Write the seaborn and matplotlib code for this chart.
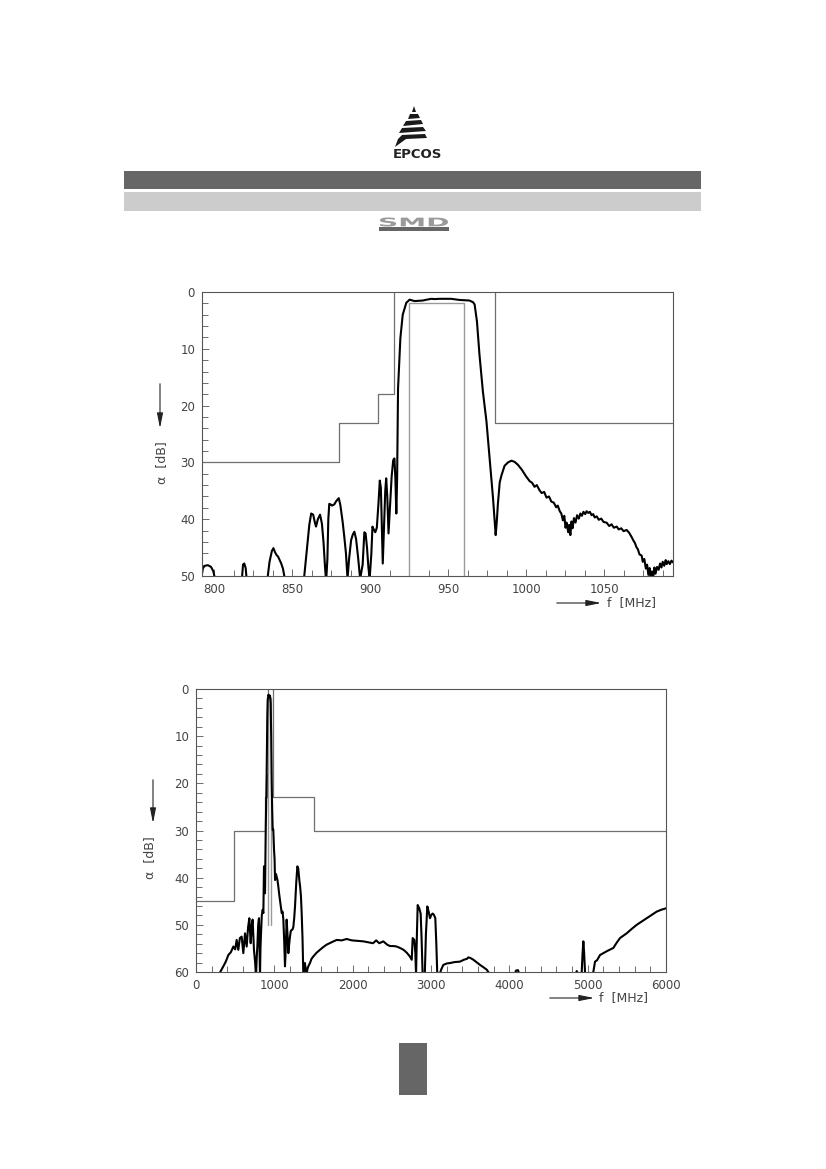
import matplotlib
matplotlib.use("Agg")
import matplotlib.pyplot as plt
import seaborn as sns
from matplotlib.patches import Rectangle, Polygon, PathPatch, FancyArrowPatch
from matplotlib.textpath import TextPath
from matplotlib.font_manager import FontProperties
from matplotlib.transforms import Affine2D
from matplotlib.ticker import MultipleLocator

# ---- data: narrow band response (f in MHz, attenuation in dB)
f1 = [792.0, 792.6, 793.8, 795.8, 797.8, 799.3, 800.3, 802, 815, 817.6, 818.3, 819.1, 820.0, 820.6, 822, 832,
      834.1, 835.3, 836.8, 837.8, 838.8, 839.8, 840.8, 841.8, 842.8, 843.9, 844.9, 846.5, 855,
      857.5, 859.2, 860.8, 862.0, 863.3, 864.3, 865.1, 866.3, 867.7, 868.9, 869.9, 870.9, 871.6, 872.4,
      873.0, 873.6, 874.5, 875.3, 876.8, 878.1, 879.7, 880.7, 882.2, 883.2, 884.3, 885.3, 886.3,
      887.6, 888.7, 889.7, 890.8, 892.0, 893.4, 895.0, 896.1, 896.9, 897.8, 898.7, 899.5, 900.6,
      901.3, 902.1, 903.1, 904.1, 905.2, 906.0, 906.7, 907.4, 907.9, 908.6, 909.5, 910.1, 910.8,
      911.6, 912.5, 913.6, 914.6, 915.4, 916.0, 916.6, 917.1, 917.7, 919.2, 920.7, 923.0, 925.1,
      926.9, 928.3, 931.0, 933.6, 936.1, 939.0, 941.2, 944.3, 947.4, 951.8, 954.5, 957.1, 960.1,
      963.5, 965.8, 966.8, 968.3, 969.9, 972.1, 974.4, 976.4, 978.6, 979.6, 980.3, 981.0, 981.7,
      982.9, 984.0, 986.0, 988.2, 990.4, 992.4, 994.5, 997.1, 999.9, 1002.1, 1003.7, 1005.2,
      1006.7, 1008.4, 1009.8, 1011.4, 1012.9, 1014.5, 1016.0, 1017.6, 1019.1, 1020.1, 1021.4,
      1022.4, 1023.4, 1024.3, 1025.1, 1025.8, 1026.8, 1027.4, 1028.2, 1028.9, 1029.6, 1030.5,
      1031.5, 1032.5, 1033.6, 1034.6, 1035.6, 1036.6, 1037.7, 1038.6, 1039.7, 1040.7, 1041.8,
      1042.8, 1043.8, 1045.1, 1046.4, 1048.0, 1049.5, 1051.4, 1053.1, 1054.6, 1056.1, 1057.9,
      1059.2, 1060.8, 1062.3, 1064.3, 1065.9, 1067.4, 1068.5, 1069.6, 1070.5, 1071.5, 1072.5,
      1073.9, 1074.6, 1075.6, 1076.6, 1077.4, 1078.2, 1079.0, 1079.7, 1080.5, 1081.2, 1082.1,
      1082.8, 1083.8, 1084.8, 1085.7, 1086.6, 1087.4, 1088.4, 1089.3, 1090.0, 1091.0, 1092.0,
      1093.0, 1094.0]
a1 = [49.6, 48.6, 48.2, 48.1, 48.4, 49.2, 50.5, 56, 56, 50.5, 48.0, 47.8, 48.6, 50.5, 56, 56,
      50.2, 47.5, 45.6, 45.1, 45.8, 46.3, 46.6, 47.2, 47.8, 48.7, 50.2, 56, 56,
      50.2, 45.5, 41, 39.0, 39.2, 40.5, 41.3, 40.0, 39.2, 40.8, 44, 48.5, 51, 47,
      40, 37.3, 37.4, 37.6, 37.4, 36.8, 36.3, 37.5, 40.5, 43, 46, 50.5, 47,
      43.7, 42.7, 42.2, 43.5, 46.5, 50.5, 48, 42.3, 42.5, 45, 48.5, 50.5, 46,
      41.3, 41.8, 42.3, 41.5, 37, 33.2, 34.5, 42, 47.8, 42, 35, 32.8, 36,
      42.5, 38, 32.5, 29.6, 29.3, 33, 39, 33, 17, 8.1, 4.0, 1.9, 1.35,
      1.5, 1.6, 1.55, 1.5, 1.35, 1.2, 1.25, 1.2, 1.2, 1.2, 1.3, 1.4, 1.45,
      1.5, 1.8, 2.2, 5.2, 11.0, 17.5, 22.8, 29.2, 36.3, 40, 42.8, 40.5, 37.4,
      33.5, 32.3, 30.6, 30.0, 29.7, 29.9, 30.4, 31.3, 32.5, 33.3, 33.6, 34.3,
      34.0, 34.9, 35.4, 35.2, 36.2, 36.0, 36.9, 37.1, 37.9, 37.6, 38.6,
      39.0, 40.2, 39.4, 41.5, 40.6, 42.3, 41.0, 42.8, 40.4, 41.6, 39.8,
      40.6, 39.3, 39.9, 39.0, 39.4, 38.7, 39.1, 38.6, 38.9, 38.7, 39.3,
      39.1, 39.7, 39.5, 40.1, 39.9, 40.5, 40.6, 41.2, 40.9, 41.5, 41.3,
      41.8, 41.6, 42.1, 41.9, 42.4, 43.1, 43.7, 44.2, 44.9, 45.3, 46.2,
      46.4, 47.5, 47.0, 48.7, 48.0, 49.8, 48.6, 50.5, 49.2, 50.4, 48.5,
      49.6, 48.4, 48.9, 47.8, 48.5, 47.5, 48.2, 47.2, 47.9, 47.4, 47.9,
      47.3, 47.6]

# tolerance mask, narrow band
m1_low_f = [792, 880, 880, 905, 905, 915, 915]
m1_low_a = [30, 30, 23, 23, 18, 18, 0]
m1_high_f = [980, 980, 1094]
m1_high_a = [0, 23, 23]
pass_f = [925, 925, 960, 960]
pass_a = [50, 2, 2, 50]

# ---- data: wide band response
f2 = [300, 306, 349, 380, 413, 445, 477, 500, 519, 540, 560, 583, 604, 626, 647, 665, 681, 698, 712,
      723, 740, 755, 766, 775, 783, 794, 804, 810, 817, 823, 830, 840, 851, 860, 868, 875, 881, 890,
      902, 910, 915, 925, 936, 945, 953, 960, 966, 972, 979, 987, 996, 1003, 1009, 1020, 1030, 1040,
      1051, 1062, 1072, 1083, 1094, 1105, 1115, 1125, 1136, 1146, 1157, 1168, 1179, 1190, 1200,
      1210, 1221, 1232, 1243, 1254, 1264, 1280, 1294, 1305, 1319, 1330, 1340, 1349, 1360, 1370,
      1380, 1391, 1402, 1413, 1420, 1434, 1455, 1475, 1498, 1540, 1583, 1625, 1668, 1730, 1796,
      1860, 1923, 1990, 2060, 2136, 2200, 2260, 2300, 2340, 2391, 2440, 2477, 2520, 2562, 2604,
      2650, 2690, 2730, 2754, 2760, 2766, 2787, 2800, 2809, 2820, 2830, 2850, 2868, 2880, 2894,
      2920, 2935, 2953, 2970, 2987, 3004, 3021, 3038, 3055, 3068, 3081, 3100, 3130, 3157, 3200,
      3243, 3300, 3370, 3420, 3460, 3477, 3500, 3541, 3580, 3626, 3670, 3711, 3740, 3760, 4060,
      4085, 4110, 4140, 4840, 4860, 4880, 4910, 4924, 4935, 4945, 4955, 4966, 4980, 5060, 5072,
      5094, 5120, 5158, 5200, 5243, 5290, 5328, 5370, 5413, 5455, 5498, 5560, 5626, 5690, 5754,
      5820, 5881, 5940, 6000]
a2 = [61, 60.1, 58.8, 57.8, 56.4, 55.8, 54.6, 55.2, 53.2, 55.3, 52.8, 52.5, 56.0, 51.8, 54.6, 50.5, 48.6, 53.9, 50,
      48.9, 55.3, 58, 61, 57, 54.6, 50, 48.6, 55, 61, 55, 51.8, 48, 46.8, 47.5, 37.6, 42, 43.3, 30,
      17.9, 6, 2.3, 1.2, 1.6, 1.4, 3.0, 10, 19.3, 25, 29.9, 29.8, 34.1, 36, 40.5, 39.2, 39.8, 40.5,
      41.9, 43.5, 44.7, 46, 47.5, 47.2, 48.9, 53, 58.8, 55, 48.9, 52, 56.0, 54, 52.5,
      51.3, 51.1, 51.0, 50.4, 48.5, 46.1, 41, 37.6, 38, 40.5, 42, 44, 47.5, 53, 60.5,
      61, 58.1, 60.5, 61, 59.5, 58.8, 58.1, 57.2, 56.7, 55.9, 55.3, 54.7, 54.2, 53.7, 53.2,
      53.3, 53.0, 53.3, 53.4, 53.5, 53.7, 53.9, 53.3, 53.9, 53.5, 54.2, 54.5, 54.5, 54.6, 54.9,
      55.3, 55.9, 56.7, 57.4, 55, 52.8, 53.2, 56, 60.5, 52, 45.8, 46.5, 47.6, 53, 61,
      61, 52, 46.1, 47.2, 48.6, 47.9, 47.6, 47.9, 48.6, 54, 61, 61, 59.5, 58.5, 58.2,
      58.1, 57.9, 57.8, 57.4, 57.2, 56.9, 57.0, 57.4, 57.9, 58.5, 59.0, 59.5, 60.2, 61, 61,
      59.7, 59.6, 61, 61, 59.8, 60.5, 61, 60, 56, 53.5, 56, 60, 61, 61, 60,
      57.8, 57.5, 56.4, 56.0, 55.6, 55.2, 54.9, 53.8, 52.8, 52.3, 51.8, 50.9, 50.0, 49.3, 48.6,
      47.9, 47.2, 46.8, 46.5]

m2_low_f = [0, 480, 480, 880, 880, 905, 905, 915, 915]
m2_low_a = [45, 45, 30, 30, 23, 23, 18, 18, 0]
m2_high_f = [980, 980, 1500, 1500, 6000]
m2_high_a = [0, 23, 23, 30, 30]

W, H = 826, 1169
sns.set_style("white")
plt.rcParams["font.family"] = ["DejaVu Sans"]

fig = plt.figure(figsize=(W / 100, H / 100), dpi=100)


def fx(x):
    return x / W


def fy(y):
    return 1 - y / H


# ---- page header
fig.add_artist(Rectangle((fx(124), fy(189)), fx(701) - fx(124), 18.5 / H, transform=fig.transFigure,
                         facecolor="#666666", edgecolor="none"))
fig.add_artist(Rectangle((fx(124), fy(210.5)), fx(701) - fx(124), 18.5 / H, transform=fig.transFigure,
                         facecolor="#cccccc", edgecolor="none"))

logo_bands = [
    [(412, 112), (416, 112), (414, 106)],
    [(408, 119), (410, 114), (418, 114), (420, 118)],
    [(403, 126), (406, 121), (421, 120), (423, 124)],
    [(399, 133), (402, 128), (423, 127), (426, 131)],
    [(395, 147), (398, 139), (402, 135), (425, 134), (427, 138), (406, 139)],
]
for band in logo_bands:
    fig.add_artist(Polygon([(fx(x), fy(y)) for x, y in band], closed=True, transform=fig.transFigure,
                           facecolor="#1a1a1a", edgecolor="none"))
fig.text(fx(417), fy(154), "EPCOS", ha="center", va="center", fontsize=9.5, fontweight="bold", color="#222222")

# SMD badge
tp = TextPath((0, 0), "SMD", size=10, prop=FontProperties(family="DejaVu Sans", weight="bold"))
ext = tp.get_extents()
smd_tr = (Affine2D().translate(-ext.x0, -ext.y0)
          .scale(68 / ext.width / W, 9 / ext.height / H)
          .translate(fx(380), fy(226.5)) + fig.transFigure)
fig.add_artist(PathPatch(tp, transform=smd_tr, facecolor="#9a9a9a", edgecolor="none"))
fig.add_artist(Rectangle((fx(379), fy(231)), 70 / W, 4.3 / H, transform=fig.transFigure,
                         facecolor="#666666", edgecolor="none"))

# page number block
fig.add_artist(Rectangle((fx(399), fy(1095)), 28 / W, 52 / H, transform=fig.transFigure,
                         facecolor="#666666", edgecolor="none"))

tick_col = "#444444"
spine_col = "#555555"


def style_axes(ax):
    for s in ax.spines.values():
        s.set_color(spine_col)
        s.set_linewidth(0.8)
        s.set_visible(True)
    ax.tick_params(which="both", direction="in", color=spine_col, width=0.6,
                   labelsize=8.5, labelcolor=tick_col, bottom=True, left=True, top=False, right=False)
    ax.tick_params(which="major", length=5, pad=5)
    ax.tick_params(which="minor", length=4)
    ax.set_xlabel("")
    ax.set_ylabel("")


def axis_labels(ylab_xy, yarrow, xarrow, xlab_xy):
    fig.text(fx(ylab_xy[0]), fy(ylab_xy[1]), "α  [dB]", rotation=90, ha="center", va="center",
             fontsize=9, color=tick_col)
    fig.add_artist(FancyArrowPatch(
        (fx(yarrow[0]), fy(yarrow[1])), (fx(yarrow[0]), fy(yarrow[2])), transform=fig.transFigure,
        arrowstyle="-|>,head_length=0.9,head_width=0.18", mutation_scale=10, color="#222222", lw=0.8))
    fig.add_artist(FancyArrowPatch(
        (fx(xarrow[0]), fy(xarrow[2])), (fx(xarrow[1]), fy(xarrow[2])), transform=fig.transFigure,
        arrowstyle="-|>,head_length=0.9,head_width=0.18", mutation_scale=10, color="#222222", lw=0.8))
    fig.text(fx(xlab_xy[0]), fy(xlab_xy[1]), "f  [MHz]", ha="left", va="center", fontsize=9, color=tick_col)


mask_col = "#6f6f6f"
pass_col = "#9a9a9a"

# ---- narrow band chart
ax1 = fig.add_axes([fx(202), fy(576), (673 - 202) / W, (576 - 292) / H])
sns.lineplot(x=m1_low_f, y=m1_low_a, ax=ax1, sort=False, estimator=None, color=mask_col, lw=0.9)
sns.lineplot(x=m1_high_f, y=m1_high_a, ax=ax1, sort=False, estimator=None, color=mask_col, lw=0.9)
sns.lineplot(x=pass_f, y=pass_a, ax=ax1, sort=False, estimator=None, color=pass_col, lw=1.0)
sns.lineplot(x=f1, y=a1, ax=ax1, sort=False, estimator=None, color="black", lw=1.5)
ax1.set_xlim(792, 1094)
ax1.set_ylim(50, 0)
ax1.xaxis.set_major_locator(MultipleLocator(50))
ax1.xaxis.set_minor_locator(MultipleLocator(12.5))
ax1.yaxis.set_major_locator(MultipleLocator(10))
ax1.yaxis.set_minor_locator(MultipleLocator(2))
style_axes(ax1)
axis_labels((162, 463), (160, 381, 431), (554, 604, 603), (607, 603))

# ---- wide band chart
ax2 = fig.add_axes([fx(196), fy(972), (666 - 196) / W, (972 - 689) / H])
sns.lineplot(x=m2_low_f, y=m2_low_a, ax=ax2, sort=False, estimator=None, color=mask_col, lw=0.9)
sns.lineplot(x=m2_high_f, y=m2_high_a, ax=ax2, sort=False, estimator=None, color=mask_col, lw=0.9)
sns.lineplot(x=pass_f, y=pass_a, ax=ax2, sort=False, estimator=None, color=pass_col, lw=1.0)
sns.lineplot(x=f2, y=a2, ax=ax2, sort=False, estimator=None, color="black", lw=1.5)
ax2.set_xlim(0, 6000)
ax2.set_ylim(60, 0)
ax2.xaxis.set_major_locator(MultipleLocator(1000))
ax2.xaxis.set_minor_locator(MultipleLocator(200))
ax2.yaxis.set_major_locator(MultipleLocator(10))
ax2.yaxis.set_minor_locator(MultipleLocator(2))
style_axes(ax2)
axis_labels((150, 858), (153, 777, 826), (547, 597, 998), (599, 998))

fig.savefig("out.png", dpi=100)
